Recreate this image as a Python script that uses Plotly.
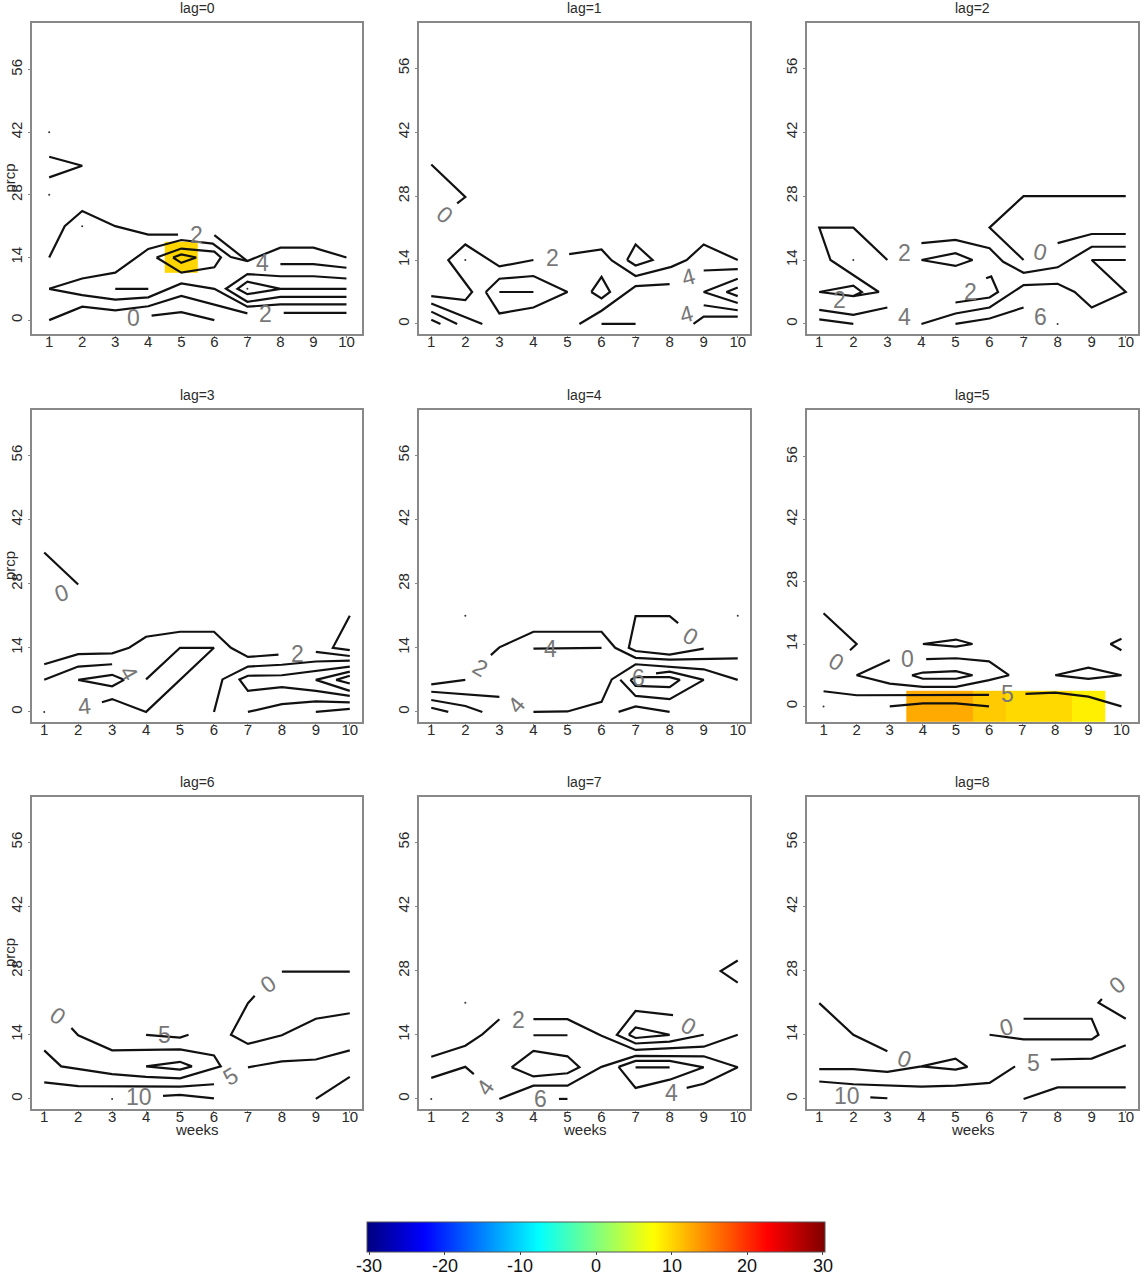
import plotly.graph_objects as go

weeks_ticks = [1, 2, 3, 4, 5, 6, 7, 8, 9, 10]
prcp_ticks = [0, 14, 28, 42, 56]
cbar_ticks = [-30, -20, -10, 0, 10, 20, 30]

# contour pieces, (weeks, prcp)
lag0_lines = [
    [(1, 36.5), (2, 34.5), (1, 31.9)],
    [(1, 14), (1.47, 21), (2, 24.4), (3, 21), (4, 19.1), (4.9, 19.1)],
    [(6, 19), (7, 13.2)],
    [(1, 7), (2, 9.3), (3, 10.6), (4, 15.9), (5, 17.9), (5.95, 17.1), (6.5, 14.1), (7, 13.2), (8, 16.2), (9, 16.2), (10, 14)],
    [(1, 7), (2, 5.6), (3, 4.6), (4, 5.1), (5, 8.2), (6, 7), (7, 3), (8, 3.5), (10, 3.5)],
    [(1, 0), (2, 3), (3, 2.2), (4, 3.1), (5, 5.4), (7, 1.5)],
    [(4.1, 1), (5, 1.8), (6, 0)],
    [(3, 7), (4, 7)],
    [(4.25, 14), (5, 16), (6, 15.3), (6.2, 14), (6, 11.8), (5, 10.6), (4.25, 14)],
    [(4.75, 14), (5, 14.7), (5.45, 14), (5, 12.8), (4.75, 14)],
    [(8, 12.5), (9, 12.5), (10, 11.7)],
    [(10, 9.3), (9, 9.8), (8, 9.8), (7, 10.3), (6.35, 7), (7, 4.1), (8, 5.2), (10, 5.2)],
    [(10, 7), (8, 7), (7, 8.6), (6.7, 7), (7, 5.8), (8, 7)],
    [(8.1, 1.6), (10, 1.6)],
]
lag0_dots = [(1, 42), (1, 28), (2, 21), (7, 7)]
lag0_text = ["0", "2", "4", "2"]
lag0_text_pos = [(3.55, 0.5), (5.45, 19), (7.45, 12.7), (7.55, 1.3)]
lag0_text_rot = [0, 0, 0, 0]

lag1_lines = [
    [(1, 34.9), (2, 27.8), (1.76, 26.4)],
    [(1, 6.1), (2, 5.2), (2.2, 7), (1.5, 14), (2, 17.4), (3, 12.6), (4, 14)],
    [(5.05, 15.3), (6, 16.3), (6.3, 13.9), (7, 10.5), (8.05, 12.5), (8.5, 14), (9, 17.4), (10, 14)],
    [(2.6, 7), (3, 9.9), (4, 10.5), (5, 7), (4, 3.6), (3, 2.3), (2.6, 7)],
    [(3, 7), (4, 7)],
    [(5.7, 7), (6, 10.3), (6.25, 7), (6, 5.6), (5.7, 7)],
    [(6.75, 14), (7, 17.4), (7.5, 14), (7, 12.8), (6.75, 14)],
    [(5.35, 0), (6, 2.9), (7, 8.3), (8, 8.7)],
    [(6, 0), (7, 0)],
    [(1, 4.5), (2.5, 0)],
    [(1, 2.7), (1.76, 0)],
    [(1, 0.9), (1.27, 0)],
    [(9, 11.7), (10, 12)],
    [(10, 9.9), (9, 7), (10, 4.6)],
    [(10, 8), (9.67, 7), (10, 6.1)],
    [(9, 4.1), (10, 3)],
    [(8.7, 0), (9, 1.6), (10, 1.6)],
]
lag1_dots = [(2, 14)]
lag1_text = ["0", "2", "4", "4"]
lag1_text_pos = [(1.4, 23.8), (4.55, 14.5), (8.55, 10.3), (8.5, 2.1)]
lag1_text_rot = [40, 0, -15, -15]

lag2_lines = [
    [(10, 28), (7, 28), (6, 21.1), (7, 14)],
    [(8, 17.7), (9, 19.7), (10, 19.7)],
    [(4, 17.7), (5, 18.4), (6, 16.6), (6.4, 13.6), (7, 11.2), (8, 12.4), (9, 16.9), (10, 16.9)],
    [(3, 14), (2, 21.1), (1, 21.1), (1.33, 14), (2.75, 7), (2, 6.1), (1, 7), (2, 8.4), (2.25, 7), (2, 6.1)],
    [(4, 14), (5, 15.5), (5.5, 14), (5, 12.7), (4, 14)],
    [(1, 3.1), (2, 2), (3, 3.6)],
    [(1, 1), (2, 0)],
    [(4, 0), (5, 2.3), (6, 3.6), (7, 8.5), (8, 8.8), (8.5, 7), (9, 3.6), (10, 7), (9, 14), (10, 14)],
    [(5, 0), (6, 1.2), (7, 3.6)],
    [(5, 4.7), (6, 5.8), (6.25, 7), (6.05, 10.4), (5.9, 10)],
]
lag2_dots = [(2, 14), (8, 0)]
lag2_text = ["0", "2", "2", "2", "4", "6"]
lag2_text_pos = [(7.5, 15.8), (3.5, 15.6), (5.45, 7.1), (1.6, 5.3), (3.5, 1.6), (7.5, 1.6)]
lag2_text_rot = [15, 0, 0, 0, 0, 0]

lag3_lines = [
    [(1, 34.8), (2, 27.8)],
    [(1, 10.4), (2, 12.6), (3, 12.8), (3.5, 14), (4, 16.4), (5, 17.5), (6, 17.5), (6.5, 14), (7, 12), (7.9, 12.5)],
    [(1, 7), (2, 9.9), (3, 10.4)],
    [(2, 7), (3, 8.1), (3.35, 7), (3, 5.6), (2, 7)],
    [(4, 7.1), (5, 14), (6, 14), (4, 0), (3, 2.8), (2.7, 2.1)],
    [(6, 0), (6.25, 7.1), (7, 9.9), (8, 10.3), (9, 11), (10, 11.2)],
    [(9, 13.1), (10, 12.2)],
    [(10, 21), (9.5, 14), (10, 13.5)],
    [(10, 9.9), (8, 8), (7, 7.9), (6.75, 7.1), (7, 4.6), (8, 5.4), (9, 4.6), (10, 3.5)],
    [(10, 8.8), (9, 7), (10, 4.6)],
    [(10, 7.9), (9.6, 7), (10, 6.2)],
    [(7, 0), (8, 1.7), (9, 2.3), (10, 2.1)],
    [(9, 0), (10, 0.65)],
]
lag3_dots = [(1, 0)]
lag3_text = ["0", "4", "4", "2"]
lag3_text_pos = [(1.5, 26), (3.5, 8.6), (2.2, 1.2), (8.45, 12.6)]
lag3_text_rot = [-20, 60, -5, 0]

lag4_lines = [
    [(1, 6), (2, 7)],
    [(1, 4.4), (3, 3.3)],
    [(1, 2.6), (2, 1.3), (2.5, 0)],
    [(1, 0.9), (1.5, 0)],
    [(2.75, 12.4), (3, 14.1), (4, 17.5), (6, 17.5), (6.4, 14), (7, 11.8), (8, 11.4), (10, 11.7)],
    [(4, 13.8), (6, 14)],
    [(8.25, 19.4), (8, 20.9), (7, 20.9), (6.8, 14), (7, 13.3), (8, 12.5), (9, 13.8)],
    [(4, 0), (5, 0.1), (6, 2.2), (6.3, 7.1), (7, 10.4), (9, 9.3), (10, 7)],
    [(7.6, 8.4), (8, 8.8), (9, 7), (8, 2.8), (7, 3.5), (6.55, 7)],
    [(6.85, 7), (7, 7.6), (8, 7.6), (8.3, 7), (8, 5.4), (7, 5.7), (6.85, 7)],
    [(6.5, 0), (7, 1.2), (8, 0)],
]
lag4_dots = [(2, 21), (10, 21)]
lag4_text = ["2", "4", "4", "0", "6"]
lag4_text_pos = [(2.45, 9.6), (4.5, 13.8), (3.5, 1.5), (8.6, 16.5), (7.1, 7.5)]
lag4_text_rot = [30, 0, -50, 30, 0]

lag5_lines = [
    [(1, 20.9), (2, 14), (1.8, 12.6)],
    [(10, 15.2), (9.67, 14), (10, 12.6)],
    [(4, 14), (5, 15), (5.5, 14), (5, 13.4), (4, 14)],
    [(3, 10.4), (2, 7), (3, 5.1), (4, 4.4), (5, 4.4), (6, 5.9), (6.6, 7), (6, 10.1), (5, 10.8), (4.1, 10.6)],
    [(3.67, 7), (4, 7.6), (5, 7.9), (5.5, 7), (5, 6.2), (4, 6.2), (3.67, 7)],
    [(8, 7), (9, 8.7), (10, 7), (9, 6.2), (8, 7)],
    [(1, 3.4), (2, 2.5), (6, 2.6)],
    [(7.1, 2.8), (8, 3.1), (9, 2.2), (10, 0)],
    [(3, 0), (4, 0.7), (5, 0.7), (6, 0)],
]
lag5_dots = [(1, 0)]
lag5_text = ["0", "0", "5"]
lag5_text_pos = [(1.4, 10), (3.55, 10.6), (6.55, 2.7)]
lag5_text_rot = [30, 0, 0]

lag6_lines = [
    [(1, 10.6), (1.5, 7.1), (3, 5.4), (4, 4.8), (5, 4.5), (6, 6.6), (6.2, 7.1), (6, 9.5), (5, 10.8), (3, 10.6), (2, 13.9), (1.8, 15.5)],
    [(4, 14), (5, 13.4), (5.25, 14)],
    [(4, 7.1), (5, 8.1), (5.35, 7.1), (5, 6.4), (4, 7.1)],
    [(1, 3.6), (2, 2.8), (5, 2.7), (6, 3.2)],
    [(4.5, 0.65), (5, 0.9), (6, 0.1)],
    [(7.2, 22.5), (7, 20.9), (6.5, 14), (7, 12), (8, 13.9), (9, 17.5), (10, 18.7)],
    [(8, 27.8), (10, 27.8)],
    [(7, 6.9), (8, 8.2), (9, 8.6), (10, 10.6)],
    [(9, 0), (10, 4.8)],
]
lag6_dots = [(3, 0)]
lag6_text = ["0", "5", "5", "0", "10"]
lag6_text_pos = [(1.4, 18), (4.55, 13.9), (6.5, 5), (7.6, 25), (3.8, 0.4)]
lag6_text_rot = [35, 0, -30, -35, 0]

lag7_lines = [
    [(1, 9.2), (2, 11.6), (2.5, 14.1), (3, 17.4)],
    [(1, 4.6), (2, 7), (2.25, 5.4)],
    [(3, 0), (4, 2.9), (5, 2.9), (6, 7), (7, 9.4), (9, 9.3), (10, 6.9), (9, 3.3), (8.5, 2.4)],
    [(3.36, 6.9), (4, 10.5), (5, 9.3), (5.35, 6.9), (5, 5.6), (4, 4.9), (3.36, 6.9)],
    [(4, 17.4), (5, 17.4), (6, 13.8), (7, 10.7), (9, 11.4), (10, 14)],
    [(4, 13.9), (5, 13.9)],
    [(8.1, 18.3), (7, 19.2), (6.45, 14), (7, 12.1), (8, 12.5), (9, 14)],
    [(6.8, 14), (7, 15.6), (8, 14), (7, 13.3), (6.8, 14)],
    [(6.5, 7), (7, 8.3), (8, 8.3), (9, 6.9), (8, 4.2), (7, 2.4), (6.5, 7)],
    [(7, 6.9), (8, 6.9)],
    [(4.75, 0), (5, 0)],
    [(10, 30.2), (9.5, 27.9), (10, 25.4)],
]
lag7_dots = [(1, 0), (2, 21)]
lag7_text = ["2", "4", "6", "0", "4"]
lag7_text_pos = [(3.55, 17.2), (2.6, 2.5), (4.2, 0), (8.55, 15.9), (8.05, 1.2)]
lag7_text_rot = [0, -55, 0, 30, 0]

lag8_lines = [
    [(1, 20.9), (2, 14), (3, 10.4)],
    [(1, 6.5), (2, 6.5), (3, 5.9), (4, 7.1), (5, 8.8), (5.35, 7), (5, 6.4), (4, 7.1)],
    [(1, 3.8), (2, 3.2), (4, 2.7), (5, 2.9), (6, 3.5), (6.75, 7.1)],
    [(2.5, 0.35), (3, 0.15)],
    [(6, 14), (7, 13), (9, 13), (9.2, 14), (9, 17.5), (7, 17.5)],
    [(10, 17.5), (9.2, 21), (9.3, 21.8)],
    [(7.8, 8.6), (9, 8.8), (10, 11.7)],
    [(7, 0), (8, 2.5), (10, 2.5)],
]
lag8_dots = []
lag8_text = ["10", "0", "0", "5", "0"]
lag8_text_pos = [(1.8, 0.6), (3.5, 8.7), (6.5, 15.7), (7.3, 7.9), (9.75, 24.8)]
lag8_text_rot = [0, 20, -15, 0, -40]

# the only filled cells
lag0_cells = [10]
lag5_cells = [12.6, 12.6, 10.7, 9.8, 9.8, 8.5]

all_lines = [lag0_lines, lag1_lines, lag2_lines, lag3_lines, lag4_lines, lag5_lines, lag6_lines, lag7_lines, lag8_lines]
all_dots = [lag0_dots, lag1_dots, lag2_dots, lag3_dots, lag4_dots, lag5_dots, lag6_dots, lag7_dots, lag8_dots]
all_text = [lag0_text, lag1_text, lag2_text, lag3_text, lag4_text, lag5_text, lag6_text, lag7_text, lag8_text]
all_pos = [lag0_text_pos, lag1_text_pos, lag2_text_pos, lag3_text_pos, lag4_text_pos, lag5_text_pos, lag6_text_pos, lag7_text_pos, lag8_text_pos]
all_rot = [lag0_text_rot, lag1_text_rot, lag2_text_rot, lag3_text_rot, lag4_text_rot, lag5_text_rot, lag6_text_rot, lag7_text_rot, lag8_text_rot]

W = 1142
H = 1280
cols = [(32, 362), (419, 750), (807, 1138)]
rows = [(23, 334), (410, 722), (797, 1109)]
jet = [[0, "#00007F"], [0.125, "#0000FF"], [0.375, "#00FFFF"], [0.625, "#FFFF00"], [0.875, "#FF0000"], [1, "#7F0000"]]
font = "Liberation Sans"

fig = go.Figure()
layout = {}
notes = []

for lag in range(9):
    r = lag // 3
    c = lag % 3
    sfx = "" if lag == 0 else str(lag + 1)
    xa = "x" + sfx
    ya = "y" + sfx

    # panels holding an image get the wider image range
    if lag == 0:
        xr = [0.48, 10.47]
        yr = [-3.1, 66.4]
    elif lag == 5:
        xr = [0.5, 10.5]
        yr = [-3.5, 66.5]
    else:
        xr = [0.64, 10.36]
        yr = [-2.2, 65.9]

    common = dict(showgrid=False, zeroline=False, showline=True, mirror=True, linecolor="#888888", linewidth=1.5,
                  ticks="outside", ticklen=2, tickcolor="#888888", tickfont=dict(family=font, size=15, color="#2a2a2a"))
    layout["xaxis" + sfx] = dict(common, domain=[cols[c][0] / W, cols[c][1] / W], range=xr, anchor=ya,
                                 tickmode="array", tickvals=weeks_ticks, ticklabelstandoff=-9)
    layout["yaxis" + sfx] = dict(common, domain=[1 - rows[r][1] / H, 1 - rows[r][0] / H], range=yr, anchor=xa,
                                 tickmode="array", tickvals=prcp_ticks, tickangle=-90, ticklabelstandoff=0)

    if lag == 0:
        fig.add_trace(go.Heatmap(z=[lag0_cells], x0=5, dx=1, y0=14, dy=7, coloraxis="coloraxis", xaxis=xa, yaxis=ya, hoverinfo="skip"))
    if lag == 5:
        fig.add_trace(go.Heatmap(z=[lag5_cells], x0=4, dx=1, y0=0, dy=7, coloraxis="coloraxis", xaxis=xa, yaxis=ya, hoverinfo="skip"))

    for seg in all_lines[lag]:
        fig.add_trace(go.Scatter(x=[p[0] for p in seg], y=[p[1] for p in seg], mode="lines", xaxis=xa, yaxis=ya,
                                 line=dict(color="#111111", width=2.2), showlegend=False))
    if all_dots[lag]:
        fig.add_trace(go.Scatter(x=[p[0] for p in all_dots[lag]], y=[p[1] for p in all_dots[lag]], mode="markers",
                                 xaxis=xa, yaxis=ya, marker=dict(color="#333333", size=2), showlegend=False))

    for txt, pos, rot in zip(all_text[lag], all_pos[lag], all_rot[lag]):
        notes.append(dict(text=txt, x=pos[0], y=pos[1], xref=xa, yref=ya, textangle=rot, showarrow=False,
                          font=dict(family=font, size=23, color="#777777")))

    mid_x = (cols[c][0] + cols[c][1]) / 2 / W
    notes.append(dict(text="lag=%d" % lag, x=mid_x, y=1 - (rows[r][0] - 15) / H, xref="paper", yref="paper", showarrow=False,
                      xanchor="center", yanchor="middle", font=dict(family=font, size=14, color="#2a2a2a")))
    if c == 0:
        notes.append(dict(text="prcp", x=9 / W, y=1 - (rows[r][0] + rows[r][1]) / 2 / H, xref="paper", yref="paper",
                          xanchor="center", yanchor="middle", textangle=-90, showarrow=False,
                          font=dict(family=font, size=15, color="#2a2a2a")))
    if r == 2:
        notes.append(dict(text="weeks", x=mid_x, y=1 - 1129 / H, xref="paper", yref="paper", showarrow=False,
                          xanchor="center", yanchor="middle", font=dict(family=font, size=15, color="#2a2a2a")))

# colour key numbers sit closer to the bar than the colorbar would put them
for v in cbar_ticks:
    notes.append(dict(text=str(v), x=(369 + (v + 30) / 60 * 454) / W, y=1 - 1266 / H, xref="paper", yref="paper",
                      xanchor="center", yanchor="middle", showarrow=False,
                      font=dict(family=font, size=18, color="#111111")))

fig.update_layout(
    width=W, height=H, margin=dict(l=0, r=0, t=0, b=0), paper_bgcolor="white", plot_bgcolor="white",
    showlegend=False, annotations=notes,
    coloraxis=dict(cmin=-30.27, cmax=30.27, colorscale=jet,
                   colorbar=dict(orientation="h", lenmode="pixels", len=458, thicknessmode="pixels", thickness=30,
                                 x=367 / W, xanchor="left", y=1 - 1222 / H, yanchor="top", xpad=0, ypad=0,
                                 tickmode="array", tickvals=cbar_ticks, ticks="outside", ticklen=3,
                                 showticklabels=False, outlinecolor="#555555", outlinewidth=1)),
    **layout,
)
fig.write_html("out.html", config={"displayModeBar": False}, post_script="document.body.style.margin='0';")
